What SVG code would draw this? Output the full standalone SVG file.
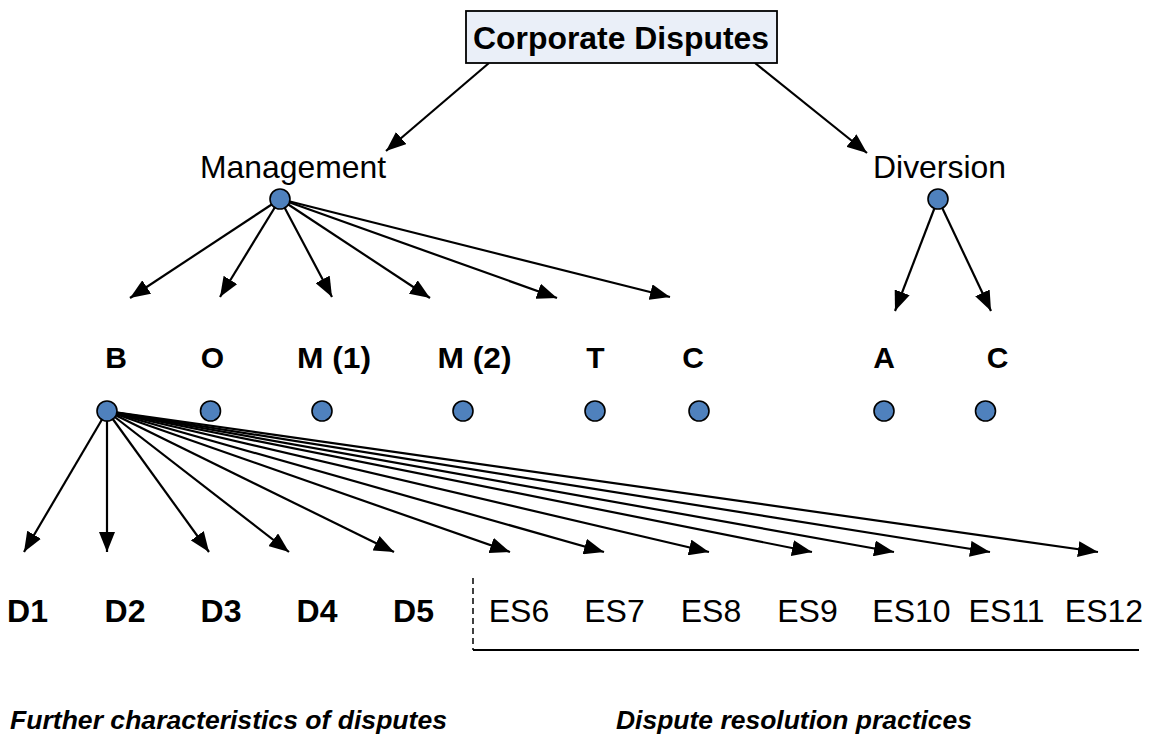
<svg xmlns="http://www.w3.org/2000/svg" width="1156" height="742" viewBox="0 0 1156 742">
<style>
.t{font-family:"Liberation Sans",Arial,sans-serif;fill:#000}
.b{font-weight:bold}
.dot{fill:#4f81bd;stroke:#000;stroke-width:1.6}
.ln{stroke:#000;stroke-width:2.2;fill:none;marker-end:url(#ah)}
</style>
<defs>
<marker id="ah" viewBox="0 0 20 16" refX="20" refY="8" markerWidth="20" markerHeight="16" markerUnits="userSpaceOnUse" orient="auto">
<path d="M0,0 L20,8 L0,16 Z" fill="#000"/>
</marker>
</defs>
<rect width="1156" height="742" fill="#fff"/>
<g id="connectors">
<line class="ln" x1="489" y1="63" x2="386" y2="151"/>
<line class="ln" x1="755" y1="63" x2="867" y2="153"/>
<line class="ln" x1="280" y1="199" x2="130" y2="298"/>
<line class="ln" x1="280" y1="199" x2="220" y2="297"/>
<line class="ln" x1="280" y1="199" x2="332" y2="297"/>
<line class="ln" x1="280" y1="199" x2="430" y2="298"/>
<line class="ln" x1="280" y1="199" x2="557" y2="298"/>
<line class="ln" x1="280" y1="199" x2="670" y2="297"/>
<line class="ln" x1="938" y1="199" x2="895" y2="311"/>
<line class="ln" x1="938" y1="199" x2="991" y2="311"/>
<line class="ln" x1="107" y1="411" x2="24" y2="552"/>
<line class="ln" x1="107" y1="411" x2="107" y2="552"/>
<line class="ln" x1="107" y1="411" x2="209" y2="552"/>
<line class="ln" x1="107" y1="411" x2="289" y2="552"/>
<line class="ln" x1="107" y1="411" x2="394" y2="552"/>
<line class="ln" x1="107" y1="411" x2="510" y2="552"/>
<line class="ln" x1="107" y1="411" x2="604" y2="552"/>
<line class="ln" x1="107" y1="411" x2="709" y2="552"/>
<line class="ln" x1="107" y1="411" x2="812" y2="552"/>
<line class="ln" x1="107" y1="411" x2="894" y2="552"/>
<line class="ln" x1="107" y1="411" x2="990" y2="552"/>
<line class="ln" x1="107" y1="411" x2="1098" y2="552"/>
<line x1="473" y1="578" x2="473" y2="650" stroke="#000" stroke-width="1.5" stroke-dasharray="6,4"/>
<line x1="473" y1="650" x2="1139" y2="650" stroke="#000" stroke-width="1.8"/>
</g>
<g id="root">
<rect x="466" y="11" width="311" height="52" fill="#eaeff8" stroke="#000" stroke-width="1.8"/>
<text class="t b" x="621" y="49" font-size="31" text-anchor="middle" textLength="296" lengthAdjust="spacingAndGlyphs">Corporate Disputes</text>
</g>
<g id="management">
<text class="t" x="200" y="178" font-size="32" textLength="186" lengthAdjust="spacingAndGlyphs">Management</text>
<circle class="dot" cx="280" cy="199" r="10"/>
</g>
<g id="diversion">
<text class="t" x="873" y="178" font-size="32" textLength="133" lengthAdjust="spacingAndGlyphs">Diversion</text>
<circle class="dot" cx="938" cy="199" r="10"/>
</g>
<g id="n-B"><text class="t b" x="116" y="368" font-size="30" text-anchor="middle">B</text><circle class="dot" cx="107" cy="411" r="10"/></g>
<g id="n-O"><text class="t b" x="212.5" y="368" font-size="30" text-anchor="middle">O</text><circle class="dot" cx="210.5" cy="411" r="10"/></g>
<g id="n-M1"><text class="t b" x="334" y="368" font-size="30" text-anchor="middle" textLength="74" lengthAdjust="spacingAndGlyphs">M (1)</text><circle class="dot" cx="322" cy="411" r="10"/></g>
<g id="n-M2"><text class="t b" x="474.5" y="368" font-size="30" text-anchor="middle" textLength="74" lengthAdjust="spacingAndGlyphs">M (2)</text><circle class="dot" cx="463" cy="411" r="10"/></g>
<g id="n-T"><text class="t b" x="595.5" y="368" font-size="30" text-anchor="middle">T</text><circle class="dot" cx="595" cy="411" r="10"/></g>
<g id="n-C1"><text class="t b" x="693" y="368" font-size="30" text-anchor="middle">C</text><circle class="dot" cx="699" cy="411" r="10"/></g>
<g id="n-A"><text class="t b" x="884" y="368" font-size="30" text-anchor="middle">A</text><circle class="dot" cx="884" cy="411" r="10"/></g>
<g id="n-C2"><text class="t b" x="997.5" y="368" font-size="30" text-anchor="middle">C</text><circle class="dot" cx="985.5" cy="411" r="10"/></g>
<g id="n-D1"><text class="t b" x="27.5" y="622" font-size="32" text-anchor="middle">D1</text></g>
<g id="n-D2"><text class="t b" x="125" y="622" font-size="32" text-anchor="middle">D2</text></g>
<g id="n-D3"><text class="t b" x="221" y="622" font-size="32" text-anchor="middle">D3</text></g>
<g id="n-D4"><text class="t b" x="317" y="622" font-size="32" text-anchor="middle">D4</text></g>
<g id="n-D5"><text class="t b" x="413.5" y="622" font-size="32" text-anchor="middle">D5</text></g>
<g id="n-ES6"><text class="t" x="519" y="622" font-size="32" text-anchor="middle">ES6</text></g>
<g id="n-ES7"><text class="t" x="614.5" y="622" font-size="32" text-anchor="middle">ES7</text></g>
<g id="n-ES8"><text class="t" x="711" y="622" font-size="32" text-anchor="middle">ES8</text></g>
<g id="n-ES9"><text class="t" x="807.5" y="622" font-size="32" text-anchor="middle">ES9</text></g>
<g id="n-ES10"><text class="t" x="911.5" y="622" font-size="32" text-anchor="middle">ES10</text></g>
<g id="n-ES11"><text class="t" x="1006.5" y="622" font-size="32" text-anchor="middle">ES11</text></g>
<g id="n-ES12"><text class="t" x="1104" y="622" font-size="32" text-anchor="middle">ES12</text></g>
<g id="captions">
<text class="t b" x="10" y="729" font-size="25" font-style="italic" textLength="437" lengthAdjust="spacingAndGlyphs">Further characteristics of disputes</text>
<text class="t b" x="616" y="729" font-size="25" font-style="italic" textLength="356" lengthAdjust="spacingAndGlyphs">Dispute resolution practices</text>
</g>
</svg>
